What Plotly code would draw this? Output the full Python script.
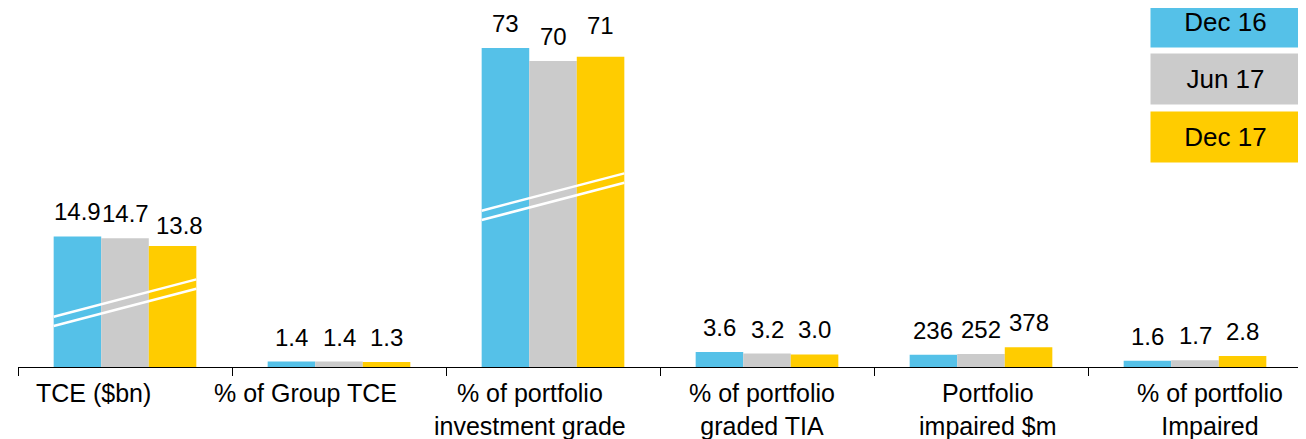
import plotly.graph_objects as go

categories = ["TCE ($bn)", "% of Group TCE", "% of portfolio<br>investment grade",
              "% of portfolio<br>graded TIA", "Portfolio<br>impaired $m", "% of portfolio<br>Impaired"]
periods = ["Dec 16", "Jun 17", "Dec 17"]
dec16 = [14.9, 1.4, 73, 3.6, 236, 1.6]
jun17 = [14.7, 1.4, 70, 3.2, 252, 1.7]
dec17 = [13.8, 1.3, 71, 3.0, 378, 2.8]
labels_dec16 = ["14.9", "1.4", "73", "3.6", "236", "1.6"]
labels_jun17 = ["14.7", "1.4", "70", "3.2", "252", "1.7"]
labels_dec17 = ["13.8", "1.3", "71", "3.0", "378", "2.8"]

# each category is drawn on its own scale (broken axis in the original)
scale = [8.76, 3.9, 4.37, 4.2, 0.052, 3.9]

colors = ["#55C1E8", "#CBCBCB", "#FFCC00"]
FONT = "Arial, Liberation Sans, sans-serif"

# the page body has an 8px margin, so the figure is laid out 8px smaller
OFF = 8
W, H = 1306 - OFF, 439 - OFF
ML, MR, MT, MB = 18 - OFF, 4, 0, 72
PW, PH = W - ML - MR, H - MT - MB
cat_px = PW / len(categories)
bargap = 1 / 3
bar_px = cat_px * (1 - bargap) / 3

fig = go.Figure()
series = [dec16, jun17, dec17]
series_labels = [labels_dec16, labels_jun17, labels_dec17]
xs = list(range(len(categories)))
for name, vals, col in zip(periods, series, colors):
    fig.add_trace(go.Bar(
        x=xs, y=[v * s for v, s in zip(vals, scale)], name=name,
        marker=dict(color=col, line=dict(width=0)), showlegend=False,
        hoverinfo="skip",
    ))

# value labels above the bars
nudge = {(0, 2): (7, -4), (2, 2): (0, 7)}
for j, labs in enumerate(series_labels):
    for i, (lab, v) in enumerate(zip(labs, series[j])):
        dx, dy = nudge.get((i, j), (0, 0))
        fig.add_annotation(x=i, y=v * scale[i], xref="x", yref="y", text=lab,
                           showarrow=False, yanchor="bottom", xshift=(j - 1) * bar_px + dx,
                           yshift=9 + dy, font=dict(family=FONT, size=24, color="black"))

# category labels (hand-placed like the original text boxes)
label_shift = [-32, -34, -23, -5, 7, 15]
for i, (c, dx) in enumerate(zip(categories, label_shift)):
    fig.add_annotation(x=i, y=0, xref="x", yref="paper", text=c, showarrow=False,
                       yanchor="top", xshift=dx, yshift=-10,
                       font=dict(family=FONT, size=25, color="black"))

# axis-break marks
breaks = [(0, 41, 78.3), (2, 147, 184.3)]
for i, y0, y1 in breaks:
    for dy in (0, 9.3):
        fig.add_shape(type="line", xref="x", yref="y",
                      x0=i - (1 - bargap) / 2, x1=i + (1 - bargap) / 2,
                      y0=y0 + dy, y1=y1 + dy, line=dict(color="white", width=2.5))

# legend boxes
box_y = [21.7, 79.3, 137.3]
for name, col, yc in zip(periods, colors, box_y):
    fig.add_annotation(x=(1225.3 - OFF - ML) / PW, y=1 - (yc - OFF - MT) / PH,
                       xref="paper", yref="paper",
                       text=name, showarrow=False, width=147, height=48, bgcolor=col,
                       borderpad=1, xanchor="center", yanchor="middle",
                       font=dict(family=FONT, size=26, color="black"))

fig.update_layout(
    width=W, height=H, margin=dict(l=ML, r=MR, t=MT, b=MB),
    barmode="group", bargap=bargap, bargroupgap=0,
    plot_bgcolor="white", paper_bgcolor="white",
    font=dict(family=FONT, size=24, color="black"),
)
fig.update_xaxes(range=[-0.5, len(categories) - 0.5], showticklabels=False, showgrid=False,
                 zeroline=False, showline=True, linecolor="black", linewidth=1,
                 ticks="outside", ticklen=8, tickcolor="black",
                 tickvals=[i - 0.5 for i in range(len(categories) + 1)])
fig.update_yaxes(range=[0, PH], visible=False)

fig.write_html("out.html")
